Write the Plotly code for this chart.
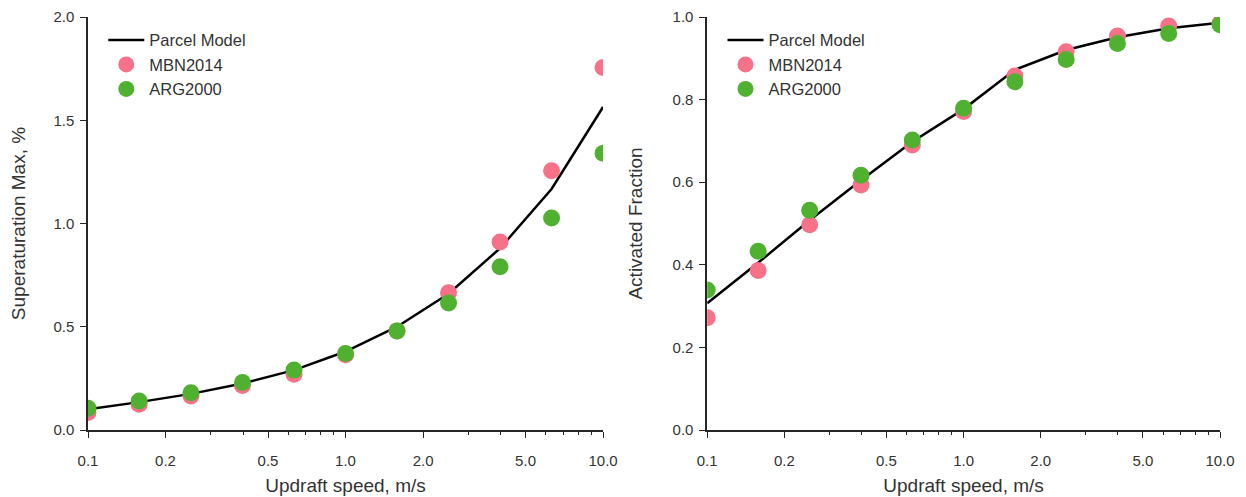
import plotly.graph_objects as go

# Data
updraft = [0.1, 0.158, 0.251, 0.398, 0.631, 1.0, 1.585, 2.512, 3.981, 6.31, 10.0]

smax_parcel = [0.10, 0.135, 0.175, 0.225, 0.29, 0.38, 0.50, 0.66, 0.88, 1.167, 1.564]
smax_mbn = [0.085, 0.125, 0.165, 0.215, 0.27, 0.365, 0.48, 0.665, 0.91, 1.255, 1.755]
smax_arg = [0.105, 0.14, 0.18, 0.23, 0.29, 0.37, 0.48, 0.615, 0.79, 1.027, 1.34]

act_parcel = [0.307, 0.405, 0.508, 0.605, 0.698, 0.777, 0.872, 0.92, 0.951, 0.973, 0.986]
act_mbn = [0.272, 0.386, 0.497, 0.593, 0.69, 0.771, 0.857, 0.916, 0.954, 0.978, 0.985]
act_arg = [0.339, 0.433, 0.532, 0.617, 0.702, 0.779, 0.843, 0.897, 0.936, 0.960, 0.981]

x_major = [0.1, 0.2, 0.5, 1.0, 2.0, 5.0, 10.0]
x_major_text = ["0.1", "0.2", "0.5", "1.0", "2.0", "5.0", "10.0"]
x_minor = [0.3, 0.4, 0.6, 0.7, 0.8, 0.9, 3, 4, 6, 7, 8, 9]

PINK = "#f77189"
GREEN = "#50b131"
TXT = "#333333"
AX = "#262626"
FONT = "Liberation Sans, Arial, sans-serif"

fig = go.Figure()

def add_panel(xa, ya, legend, parcel, mbn, arg, tag):
    fig.add_trace(go.Scatter(x=updraft, y=parcel, mode="lines", name="Parcel Model",
                             line=dict(color="black", width=2.5), legendgroup=tag + "a",
                             xaxis=xa, yaxis=ya, legend=legend))
    fig.add_trace(go.Scatter(x=updraft, y=mbn, mode="markers", name="MBN2014",
                             marker=dict(color=PINK, size=17), legendgroup=tag + "b",
                             xaxis=xa, yaxis=ya, legend=legend))
    fig.add_trace(go.Scatter(x=updraft, y=arg, mode="markers", name="ARG2000",
                             marker=dict(color=GREEN, size=17), legendgroup=tag + "c",
                             xaxis=xa, yaxis=ya, legend=legend))

add_panel("x", "y", "legend", smax_parcel, smax_mbn, smax_arg, "l")
add_panel("x2", "y2", "legend2", act_parcel, act_mbn, act_arg, "r")

TICKFONT = dict(size=15, color=TXT, family=FONT)
TITLEFONT = dict(size=19, color=TXT, family=FONT)

xcommon = dict(type="log", range=[-1, 1], tickvals=x_major, ticktext=x_major_text,
               ticks="outside", ticklen=6, tickwidth=1.3, tickcolor=AX,
               showline=True, linecolor=AX, linewidth=1.5, showgrid=False,
               zeroline=False, tickfont=TICKFONT,
               ticklabelstandoff=10, automargin=False,
               minor=dict(tickvals=x_minor, ticks="outside", ticklen=3.5,
                          tickwidth=1.1, tickcolor=AX, showgrid=False),
               title=dict(text="Updraft speed, m/s", font=TITLEFONT, standoff=11))
ycommon = dict(ticks="outside", ticklen=6, tickwidth=1.3, tickcolor=AX,
               showline=True, linecolor=AX, linewidth=1.5, showgrid=False,
               zeroline=False, tickformat=".1f", automargin=False, ticklabelstandoff=3,
               tickfont=TICKFONT)

legfont = dict(size=16.5, color=TXT, family=FONT)

# page body has an 8px margin; figure is sized/positioned to compensate
fig.update_layout(
    width=1238, height=489,
    margin=dict(l=80, r=26, t=9, b=67),
    plot_bgcolor="white", paper_bgcolor="white",
    font=dict(family=FONT, color=TXT),
    xaxis=dict(domain=[0, 0.455], anchor="y", **xcommon),
    xaxis2=dict(domain=[0.547, 1], anchor="y2", **xcommon),
    yaxis=dict(domain=[0, 1], anchor="x", range=[0, 2], dtick=0.5,
               title=dict(text="Superaturation Max, %", font=TITLEFONT, standoff=27), **ycommon),
    yaxis2=dict(domain=[0, 1], anchor="x2", range=[0, 1], dtick=0.2,
                title=dict(text="Activated Fraction", font=TITLEFONT, standoff=25), **ycommon),
    legend=dict(x=0.0135, y=0.986, xanchor="left", yanchor="top", bgcolor="rgba(0,0,0,0)",
                tracegroupgap=0, itemwidth=36, font=legfont),
    legend2=dict(x=0.5605, y=0.986, xanchor="left", yanchor="top", bgcolor="rgba(0,0,0,0)",
                 tracegroupgap=0, itemwidth=36, font=legfont),
)

fig.write_html("out.html")
